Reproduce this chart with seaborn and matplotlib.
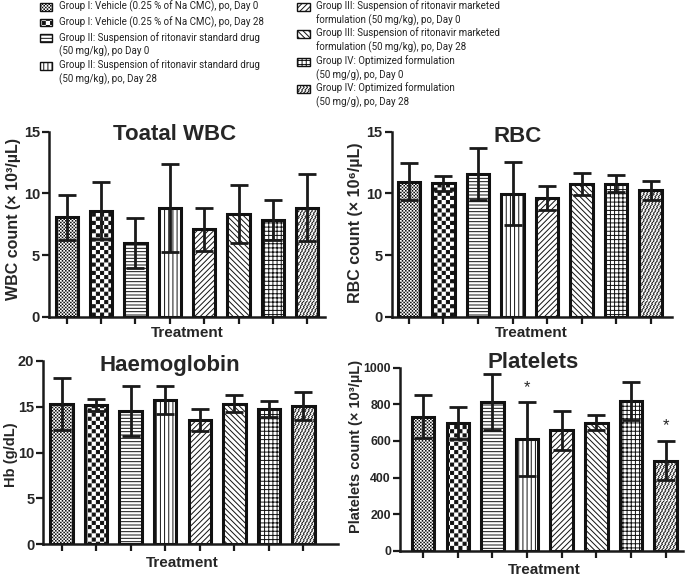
"""Haematology panels: WBC, RBC, Hb and platelets per treatment group."""

import warnings
import numpy as np
import pandas as pd
import matplotlib
matplotlib.use('Agg')
import matplotlib.pyplot as plt
import matplotlib.hatch as mhatch
from matplotlib.path import Path
from matplotlib.patches import Rectangle
import seaborn as sns

warnings.filterwarnings("ignore")

# ---- data ----
groups = ["G1D0", "G1D28", "G2D0", "G2D28", "G3D0", "G3D28", "G4D0", "G4D28"]
group_labels = [
    "Group I: Vehicle (0.25 % of Na CMC), po, Day 0",
    "Group I: Vehicle (0.25 % of Na CMC), po, Day 28",
    "Group II: Suspension of ritonavir standard drug\n(50 mg/kg), po Day 0",
    "Group II: Suspension of ritonavir standard drug\n(50 mg/kg), po, Day 28",
    "Group III: Suspension of ritonavir marketed\nformulation (50 mg/kg), po, Day 0",
    "Group III: Suspension of ritonavir marketed\nformulation (50 mg/kg), po, Day 28",
    "Group IV: Optimized formulation\n(50 mg/g), po, Day 0",
    "Group IV: Optimized formulation\n(50 mg/g), po, Day 28",
]

wbc_mean = [8.05, 8.6, 5.97, 8.78, 7.08, 8.32, 7.84, 8.84]
wbc_sd = [1.85, 2.3, 2.0, 3.57, 1.76, 2.33, 1.62, 2.73]

rbc_mean = [10.95, 10.81, 11.6, 9.97, 9.62, 10.73, 10.78, 10.24]
rbc_sd = [1.5, 0.6, 2.1, 2.55, 0.97, 0.9, 0.7, 0.8]

hb_mean = [15.3, 15.17, 14.52, 15.72, 13.54, 15.3, 14.74, 15.1]
hb_sd = [2.85, 0.66, 2.76, 1.56, 1.16, 0.94, 0.9, 1.52]

plt_mean = [732, 698, 812, 608, 658, 699, 816, 492]
plt_sd = [118, 89, 151, 202, 108, 42, 104, 108]
plt_marks = ["", "", "", "*", "", "", "", "*"]


# ---- custom fill patterns (checkerboard, dashed diagonal) ----
class CheckerHatch(mhatch.HatchPatternBase):
    def __init__(self, hatch, density):
        n = int(hatch.count('c') * density)
        self.n = n + (n % 2)
        self.num_vertices = (self.n * self.n // 2) * 5 if self.n else 0

    def set_vertices_and_codes(self, vertices, codes):
        s = 1.0 / self.n
        d = 0.0055
        k = 0
        for i in range(self.n):
            for j in range(self.n):
                if (i + j) % 2:
                    continue
                x, y = j * s, i * s
                vertices[k:k + 5] = [(x + d, y + d), (x + s - d, y + d), (x + s - d, y + s - d),
                                     (x + d, y + s - d), (x + d, y + d)]
                codes[k] = Path.MOVETO
                codes[k + 1:k + 4] = Path.LINETO
                codes[k + 4] = Path.CLOSEPOLY
                k += 5


class DashedDiagHatch(mhatch.HatchPatternBase):
    def __init__(self, hatch, density):
        self.n = int(hatch.count('d') * density)
        self.num_vertices = ((self.n + 1) ** 2) * 2 if self.n else 0

    def set_vertices_and_codes(self, vertices, codes):
        s = 1.0 / self.n
        k = 0
        for i in range(-1, self.n):
            for j in range(-1, self.n):
                x = j * s + (s / 2 if i % 2 else 0)
                y = i * s
                vertices[k] = (x, y)
                vertices[k + 1] = (x + 0.75 * s, y + 0.75 * s)
                codes[k] = Path.MOVETO
                codes[k + 1] = Path.LINETO
                k += 2


mhatch._hatch_types.append(CheckerHatch)
mhatch._hatch_types.append(DashedDiagHatch)

HATCHES = ['cccccccccc', 'cccc', '-----', '||||', '//////', '\\\\\\\\\\\\', '++++', 'ddddd']

sns.set_style("ticks")
plt.rcParams['font.family'] = ['Liberation Sans', 'DejaVu Sans']
plt.rcParams['hatch.linewidth'] = 0.7

W, H = 685, 576
fig = plt.figure(figsize=(6.85, 5.76), dpi=100)


def axes_at(left, top, right, bottom):
    return fig.add_axes([left / W, 1 - bottom / H, (right - left) / W, (bottom - top) / H])


def draw_panel(ax, means, sds, title, title_xy, ylabel, ylabel_size, ymax, ystep, xlim,
               ylab_xy, xlab_xy, tick_size=10.5, marks=None):
    df = pd.DataFrame({"group": groups, "value": means})
    sns.barplot(data=df, x="group", y="value", order=groups, color="white",
                edgecolor="#111111", linewidth=2.2, width=0.65, saturation=1,
                errorbar=None, ax=ax)
    for bar, h in zip(ax.patches, HATCHES):
        bar.set_hatch(h)
    x = np.arange(len(means))
    ax.errorbar(x, means, yerr=sds, fmt='none', ecolor='#1a1a1a', elinewidth=2,
                capsize=6.5, capthick=2, zorder=5)
    if marks:
        for xi, m, s, mk in zip(x, means, sds, marks):
            if mk:
                ax.text(xi, m + s + 0.04 * ymax, mk, ha='center', va='bottom', fontsize=12)

    ax.set_xlim(*xlim)
    ax.set_ylim(0, ymax)
    ax.set_yticks(np.arange(0, ymax + ystep / 2, ystep))
    ax.tick_params(axis='both', width=1.6, length=5, direction='out', color='#1a1a1a', pad=1.5)
    ax.tick_params(axis='x', labelbottom=False)
    for lbl in ax.get_yticklabels():
        lbl.set_fontweight('bold')
        lbl.set_fontsize(tick_size)
    sns.despine(ax=ax)
    for sp in ('left', 'bottom'):
        ax.spines[sp].set_linewidth(1.8)
        ax.spines[sp].set_color('#1a1a1a')

    ax.set_ylabel(ylabel, fontsize=ylabel_size, fontweight='bold')
    ax.yaxis.label.set_verticalalignment('center')
    ax.yaxis.set_label_coords(*ylab_xy)
    ax.set_xlabel("Treatment", fontsize=11, fontweight='bold')
    ax.xaxis.label.set_verticalalignment('center')
    ax.xaxis.set_label_coords(*xlab_xy)

    fig.text(title_xy[0] / W, 1 - title_xy[1] / H, title, ha='center', va='center',
             fontsize=16, fontweight='bold')


ax1 = axes_at(49, 131.7, 325, 316.7)
draw_panel(ax1, wbc_mean, wbc_sd, "Toatal WBC", (175, 135), "WBC count (× 10³/µL)", 11.5,
           15, 5, (-0.515, 7.515), (-0.13, 0.53), (0.5, -0.088))

ax2 = axes_at(391.7, 131.7, 671.7, 316.7)
draw_panel(ax2, rbc_mean, rbc_sd, "RBC", (518, 136), "RBC count (× 10⁶/µL)", 11.5,
           15, 5, (-0.5, 7.61), (-0.13, 0.51), (0.497, -0.088))

ax3 = axes_at(43.3, 360.7, 338, 544.3)
draw_panel(ax3, hb_mean, hb_sd, "Haemoglobin", (170, 365), "Hb (g/dL)", 10.5,
           20, 5, (-0.53, 8.0), (-0.11, 0.49), (0.47, -0.10))

ax4 = axes_at(400, 367.7, 683.3, 550.7)
draw_panel(ax4, plt_mean, plt_sd, "Platelets", (533, 362), "Platelets count (× 10³/µL)", 10.5,
           1000, 200, (-0.67, 7.51), (-0.155, 0.57), (0.51, -0.105), tick_size=8.8,
           marks=plt_marks)

# ---- legend, two columns; swatch sits on the first line of each entry ----
legend_rows = [7.3, 22.7, 38.3, 66, 7, 34, 62, 89]
for i, (label, hatch, row) in enumerate(zip(group_labels, HATCHES, legend_rows)):
    col_x = 40 if i < 4 else 297
    fig.add_artist(Rectangle(((col_x) / W, 1 - (row + 3.5) / H), 12.5 / W, 7.5 / H,
                             transform=fig.transFigure, facecolor='white',
                             edgecolor='#111111', linewidth=1, hatch=hatch))
    fig.text((col_x + 19) / W, 1 - (row - 6.5) / H, label, ha='left', va='top',
             fontsize=7, family=['Roboto', 'DejaVu Sans'], color='#222222', linespacing=1.3)

fig.savefig("out.png", dpi=100)
